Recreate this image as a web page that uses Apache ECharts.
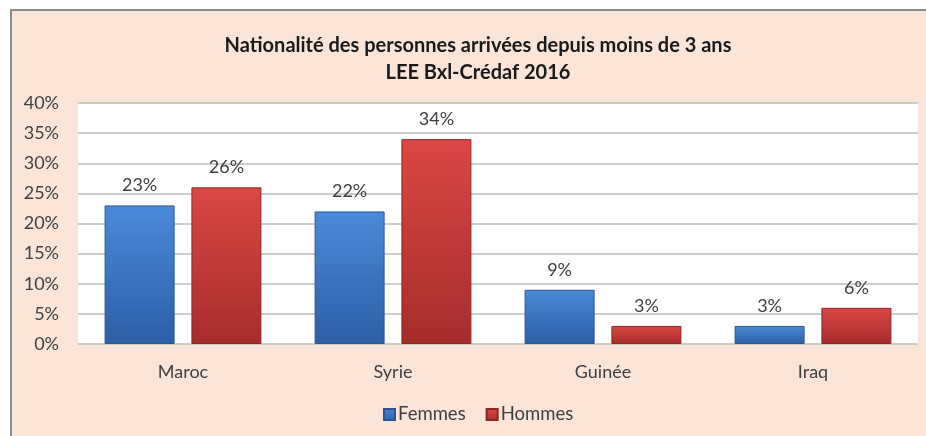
<!DOCTYPE html>
<html>
<head>
<meta charset="utf-8">
<style>
  html, body { margin: 0; padding: 0; background: #ffffff; }
  #chart { width: 926px; height: 436px; }
</style>
<script src="https://cdn.jsdelivr.net/npm/echarts@6/dist/echarts.min.js"></script>
</head>
<body>
<div id="chart"></div>
<script>
// Nationalities of people who arrived less than 3 years ago (percent)
const categories = ['Maroc', 'Syrie', 'Guinée', 'Iraq'];
const femmes = [23, 22, 9, 3];
const hommes = [26, 34, 3, 6];
const seriesNames = ['Femmes', 'Hommes'];
const titleLines = ['Nationalité des personnes arrivées depuis moins de 3 ans', 'LEE Bxl-Crédaf 2016'];

const FONT = 'Lato, "Open Sans", sans-serif';
const TEXT = '#404040';

function grad(top, bottom) {
  return new echarts.graphic.LinearGradient(0, 0, 0, 1, [
    { offset: 0, color: top },
    { offset: 1, color: bottom }
  ]);
}

const chart = echarts.init(document.getElementById('chart'), null, { renderer: 'canvas' });

const labelOpt = {
  show: true,
  position: 'top',
  distance: 11,
  color: TEXT,
  fontFamily: FONT,
  fontSize: 18,
  formatter: p => p.value + '%'
};

chart.setOption({
  animation: false,
  backgroundColor: '#ffffff',
  graphic: [{
    type: 'rect',
    z: -10,
    shape: { x: 11, y: 10, width: 930, height: 440 },
    style: { fill: '#fbe5d8', stroke: '#8c8c8c', lineWidth: 2 }
  }],
  title: {
    text: titleLines.join('\n'),
    left: 473,
    top: 27,
    textAlign: 'center',
    textStyle: {
      fontFamily: FONT,
      fontWeight: 'bold',
      fontSize: 20,
      color: '#1a1a1a',
      lineHeight: 27
    }
  },
  legend: {
    data: seriesNames,
    bottom: 7,
    left: 378,
    icon: 'rect',
    itemWidth: 11,
    itemHeight: 11,
    itemGap: 20,
    textStyle: { fontFamily: FONT, fontSize: 18.5, color: TEXT, padding: [0, 0, 0, -2] }
  },
  grid: {
    left: 78,
    right: 8,
    top: 103,
    bottom: 92,
    show: true,
    backgroundColor: '#ffffff',
    borderWidth: 0
  },
  xAxis: {
    type: 'category',
    data: categories,
    axisLine: { show: false },
    axisTick: { show: false },
    axisLabel: { color: TEXT, fontFamily: FONT, fontSize: 18, margin: 19 }
  },
  yAxis: {
    type: 'value',
    min: 0,
    max: 40,
    interval: 5,
    axisLine: { show: false },
    axisTick: { show: false },
    axisLabel: { color: TEXT, fontFamily: FONT, fontSize: 18, margin: 19, formatter: v => v + '%' },
    splitLine: { lineStyle: { color: '#bdbdbd', width: 1.5 } }
  },
  series: [
    {
      name: seriesNames[0],
      type: 'bar',
      data: femmes,
      barWidth: 70,
      barGap: '24%',
      itemStyle: {
        color: grad('#4a8ad8', '#2c5fa6'),
        borderColor: '#2a5591',
        borderWidth: 1
      },
      label: labelOpt
    },
    {
      name: seriesNames[1],
      type: 'bar',
      data: hommes,
      barWidth: 70,
      barGap: '24%',
      itemStyle: {
        color: grad('#dc4744', '#a52d2b'),
        borderColor: '#8f2624',
        borderWidth: 1
      },
      label: labelOpt
    }
  ]
});
</script>
</body>
</html>
